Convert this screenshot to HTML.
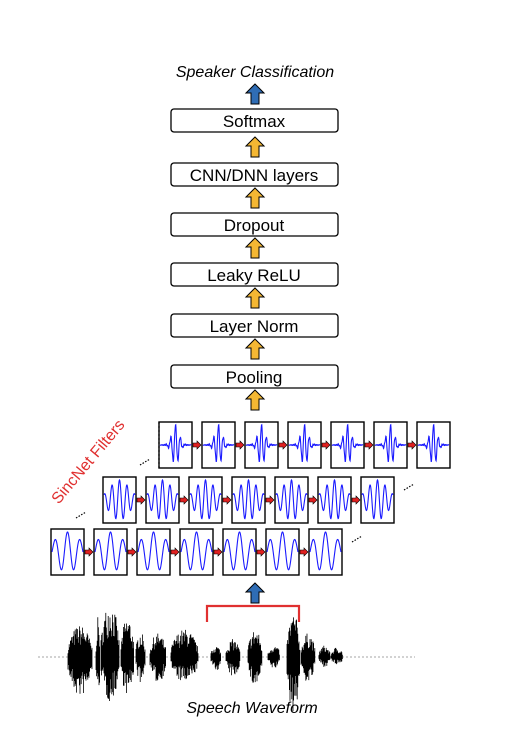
<!DOCTYPE html>
<html><head><meta charset="utf-8"><style>
html,body{margin:0;padding:0;background:#fff}
svg{display:block}
text{font-family:"Liberation Sans",sans-serif}
</style></head><body>
<svg id="s" width="522" height="734" viewBox="0 0 522 734" xmlns="http://www.w3.org/2000/svg">
<defs>
<g id="ya"><polygon points="0,-11 9,-2 4,-2 4,9 -4,9 -4,-2 -9,-2" fill="#f4b733" stroke="#000" stroke-width="1"/></g>
<g id="ba"><polygon points="0,-11 9,-2 4,-2 4,9 -4,9 -4,-2 -9,-2" fill="#2f6db5" stroke="#000" stroke-width="1"/></g>
<g id="ra"><polygon points="-4,-2 0,-2 0,-4 4,0 0,4 0,2 -4,2" fill="#e02020" stroke="#000" stroke-width="0.6"/></g>
</defs>
<text x="255" y="77" font-size="16" font-style="italic" text-anchor="middle">Speaker Classification</text>
<use href="#ba" x="255" y="95"/>
<g fill="#fff" stroke="#000" stroke-width="1.3">
<rect x="171" y="109" width="167" height="23" rx="3"/>
<rect x="171" y="163" width="167" height="23" rx="3"/>
<rect x="171" y="213" width="167" height="23" rx="3"/>
<rect x="171" y="263" width="167" height="23" rx="3"/>
<rect x="171" y="314" width="167" height="23" rx="3"/>
<rect x="171" y="365" width="167" height="23" rx="3"/>
</g>
<g font-size="17" text-anchor="middle">
<text x="254" y="127">Softmax</text>
<text x="254" y="181">CNN/DNN layers</text>
<text x="254" y="231">Dropout</text>
<text x="254" y="281">Leaky ReLU</text>
<text x="254" y="332">Layer Norm</text>
<text x="254" y="383">Pooling</text>
</g>
<use href="#ya" x="255" y="148"/>
<use href="#ya" x="255" y="199"/>
<use href="#ya" x="255" y="249"/>
<use href="#ya" x="255" y="299"/>
<use href="#ya" x="255" y="350"/>
<use href="#ya" x="255" y="401"/>
<g id="filters"></g>
<text x="0" y="0" font-size="16" fill="#e03030" transform="translate(92,465) rotate(-50)" text-anchor="middle">SincNet Filters</text>
<use href="#ba" x="255" y="594"/>
<path d="M207,622 V606 H299 V622" fill="none" stroke="#e03030" stroke-width="2.2"/>
<line x1="38" y1="657" x2="415" y2="657" stroke="#888" stroke-width="0.7" stroke-dasharray="2,2"/>
<g id="wave" stroke="#000" stroke-width="1"></g>
<text x="252" y="713" font-size="16" font-style="italic" text-anchor="middle">Speech Waveform</text>
</svg>
<script>
var NS="http://www.w3.org/2000/svg";
function el(p,t,a){var e=document.createElementNS(NS,t);for(var k in a)e.setAttribute(k,a[k]);p.appendChild(e);return e;}
var F=document.getElementById("filters");
function row(x0,y0,type){
 for(var i=0;i<7;i++){
  var x=x0+i*43,w=33,h=46;
  el(F,"rect",{x:x,y:y0,width:w,height:h,fill:"#fff",stroke:"#000","stroke-width":1.4});
  var d="",cy=y0+h/2;
  for(var j=0;j<=120;j++){
   var t=(j/120-0.5);var v;
   if(type==0){v=Math.cos(t*40)*Math.exp(-t*t*40)+0.08*Math.sin(t*120)*Math.exp(-t*t*8);}
   else if(type==1){v=Math.cos(t*26)*Math.exp(-t*t*5);}
   else{v=Math.cos(t*15.7)*Math.exp(-t*t*3);}
   d+=(j?"L":"M")+(x+1+j*(w-2)/120).toFixed(2)+","+(cy-v*(h/2-3)).toFixed(2);
  }
  el(F,"path",{d:d,fill:"none",stroke:"#1a1aff","stroke-width":1.1});
  if(i<6)el(F,"use",{href:"#ra",x:x+w+5,y:cy});
 }
}
row(159,422,0);row(103,477,1);row(51,529,2);
function dots(x,y){el(F,"line",{x1:x,y1:y,x2:x+10,y2:y-6,stroke:"#000","stroke-width":1.2,"stroke-dasharray":"1.5,1.5"});}
dots(140,465);dots(76,518);dots(404,490);dots(352,542);
el(F,"line",{x1:159,y1:422,x2:159,y2:468,stroke:"#000","stroke-width":1.2,"stroke-dasharray":"2,2"});
var W=document.getElementById("wave");
var bursts=[[68,92,32,40],[96,100,40,45],[101,119,55,45],[121,134,40,38],[136,145,26,26],[150,166,24,26],[171,198,28,26],[211,221,12,14],[226,240,18,20],[248,262,28,30],[268,280,12,12],[287,300,44,55],[301,315,24,26],[319,330,12,10],[331,343,10,8]];
var seed=7;function r(){seed=(seed*16807)%2147483647;return seed/2147483647;}
var d="";
bursts.forEach(function(b){
 for(var x=b[0];x<=b[1];x+=0.6){
  var p=(x-b[0])/(b[1]-b[0]);var env=Math.sin(Math.PI*Math.min(1,Math.max(0,p*0.9+0.05)));env=Math.pow(env,0.6);
  var u=b[2]*env*(0.35+0.65*r()),l=b[3]*env*(0.35+0.65*r());
  d+="M"+x.toFixed(1)+","+(657-u).toFixed(1)+"V"+(657+l).toFixed(1);
 }
});
el(W,"path",{d:d,stroke:"#000","stroke-width":0.8,fill:"none"});
</script>
</body></html>
